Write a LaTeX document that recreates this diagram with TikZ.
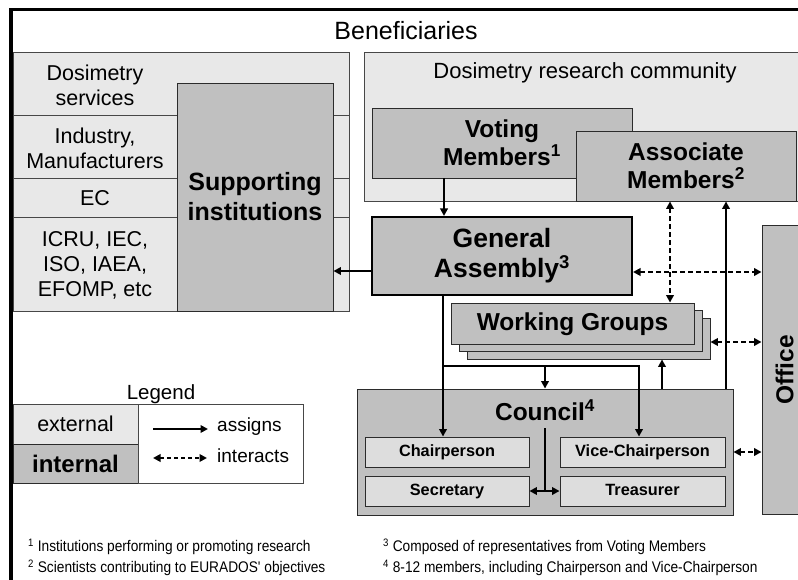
\documentclass[tikz,border=0pt]{standalone}
\usepackage{fontspec}
\setmainfont{Liberation Sans}
\newfontfamily\notefont[FakeStretch=0.89]{Liberation Sans}
\usetikzlibrary{arrows.meta}

\definecolor{extgray}{HTML}{E8E8E8}
\definecolor{intgray}{HTML}{C0C0C0}
\definecolor{subgray}{HTML}{DDDDDD}
\definecolor{edgegray}{HTML}{474747}

\begin{document}
\begin{tikzpicture}[
        x=1pt, y=-1pt,
        % every node/.style={draw},
        dims/.style 2 args={minimum width=#1, minimum height=#2},
        ext/.style={draw=edgegray, fill=extgray, line width=0.9pt},
        int/.style={draw=edgegray!60!black, fill=intgray, line width=0.9pt, inner sep=0pt},
        sub/.style={draw=edgegray!60!black, fill=subgray, line width=0.9pt, inner sep=0pt,
            text height=12pt, text depth=3.5pt,
            font=\fontsize{16.3}{19}\selectfont\bfseries},
        plain/.style={align=center, inner sep=0pt, font=\fontsize{21.5}{25}\selectfont},
        bold/.style={align=center, inner sep=0pt, font=\fontsize{24.5}{28}\selectfont\bfseries},
        note/.style={anchor=west, inner sep=0pt, font=\notefont\fontsize{15.4}{18}\selectfont},
        % arrows
        assign/.style={-{Triangle[length=7.5pt,width=7.5pt]}, line width=2.1pt},
        interact/.style={{Triangle[length=7.5pt,width=7.5pt]}-{Triangle[length=7.5pt,width=7.5pt]},
            line width=2.1pt, dash pattern=on 5pt off 3pt},
    ]
    \useasboundingbox (0,0) rectangle (798,580);
    \clip (0,0) rectangle (798,580);

    % frame and header
    \draw[line width=3.5pt] (11,600) -- (11,9.5) -- (820,9.5);
    \node[plain, font=\fontsize{25}{28}\selectfont] (benef) at (406,31) {Beneficiaries};

    % external: supporting side
    \foreach \top/\bot in {52/115, 115/178, 178/217, 217/311}
        \draw[ext] (13,\top) rectangle (349,\bot);
    \node[plain] (dosserv) at (95,85) {Dosimetry\\services};
    \node[plain] (industry) at (95,148) {Industry,\\Manufacturers};
    \node[plain] (ec) at (95,198) {EC};
    \node[plain] (intorg) at (95,265) {ICRU, IEC,\\ISO, IAEA,\\EFOMP, etc};
    \node[int, dims={156}{228}] (supp) at (255,197) {};
    \node[bold, font=\fontsize{25}{30}\selectfont\bfseries] at (supp) {Supporting\\institutions};

    % external: research community
    \node[ext, dims={441}{149}, inner sep=0pt] (community) at (584.5,126.5) {};
    \node[plain, font=\fontsize{22}{25}\selectfont] (commtext) at (585,73) {Dosimetry research community};
    \node[int, dims={260}{70}, bold] (voting) at (502,143) {Voting\\Members\textsuperscript{1}};
    \node[int, dims={220}{70}, bold] (assoc) at (686,166) {Associate\\Members\textsuperscript{2}};

    % internal bodies
    \node[int, dims={260}{78}, bold, draw=black, line width=2pt,
        font=\fontsize{26.5}{30}\selectfont\bfseries] (ga) at (502,256) {General\\Assembly\textsuperscript{3}};
    \node[int, dims={243}{41}] (wg3) at (588.5,338.5) {};
    \node[int, dims={243}{41}] (wg2) at (580.5,331) {};
    \node[int, dims={243}{41}, bold, text height=18pt, text depth=5pt] (wg) at (572.5,323.5) {Working Groups};
    \node[int, dims={376}{126}] (council) at (545,452) {};
    \node[bold] (counciltitle) at (545,410) {Council\textsuperscript{4}};
    \node[sub, dims={164}{30}] (chair) at (447,452) {Chairperson};
    \node[sub, dims={165}{30}] (vice) at (642.5,452) {Vice-Chairperson};
    \node[sub, dims={164}{30}] (secr) at (447,491) {Secretary};
    \node[sub, dims={165}{30}] (treas) at (642.5,491) {Treasurer};
    \node[int, dims={48}{289}] (office) at (786,369.5) {};
    \node[bold, rotate=90] (officetext) at (784.5,370) {Office};

    % assigns
    \draw[assign] (voting.south -| 444,0) -- (ga.north -| 444,0);
    \draw[assign] (ga.west |- 0,271) -- (supp.east |- 0,271);
    \draw[assign] (ga.south -| 443,0) -- (chair.north -| 443,0);
    \draw[assign] (443,366) -- (639,366) -- (vice.north -| 639,0);
    \draw[assign] (545,366) -- (council.north);
    \draw[assign] (council.north -| 662,0) -- (wg3.south -| 662,0);
    \draw[assign] (council.north -| 726,0) -- (assoc.south -| 726,0);
    \draw[line width=2.1pt] (counciltitle.south |- 0,428) -- (545,491);
    \draw[interact, dash pattern={}] (secr.east) -- (treas.west);

    % interacts
    \draw[interact] (assoc.south -| 670,0) -- (wg.north -| 670,0);
    \draw[interact] (ga.east |- 0,272) -- (office.west |- 0,272);
    \draw[interact] (wg3.east |- 0,342) -- (office.west |- 0,342);
    \draw[interact] (council.east |- 0,452) -- (office.west |- 0,452);

    % legend
    \node[plain, font=\fontsize{20.5}{24}\selectfont] (legend) at (161,394) {Legend};
    \node[ext, dims={125}{40}, plain] (extkey) at (75.5,424) {external};
    \node[int, dims={125}{39}, plain, font=\fontsize{24}{28}\selectfont\bfseries] (intkey) at (75.5,463.5) {internal};
    \node[draw=edgegray, fill=white, line width=0.9pt, dims={165}{79}] (keys) at (220.5,443.5) {};
    \coordinate (assignA) at (153,429);
    \coordinate (assignB) at (208,429);
    \coordinate (interA) at (153,458);
    \coordinate (interB) at (207,458);
    \draw[assign] (assignA) -- (assignB);
    \draw[interact, dash pattern=on 4pt off 3pt] (interA) -- (interB);
    \node[anchor=west, inner sep=0pt, font=\fontsize{19}{22}\selectfont] (assigntext) at (217,427) {assigns};
    \node[anchor=west, inner sep=0pt, font=\fontsize{19}{22}\selectfont] (intertext) at (217,456) {interacts};

    % footnotes
    \node[note] (fn1) at (28,547) {\textsuperscript{1} Institutions performing or promoting research};
    \node[note] (fn2) at (28,568) {\textsuperscript{2} Scientists contributing to EURADOS' objectives};
    \node[note] (fn3) at (383,547) {\textsuperscript{3} Composed of representatives from Voting Members};
    \node[note] (fn4) at (383,568) {\textsuperscript{4} 8-12 members, including Chairperson and Vice-Chairperson};
\end{tikzpicture}
\end{document}
